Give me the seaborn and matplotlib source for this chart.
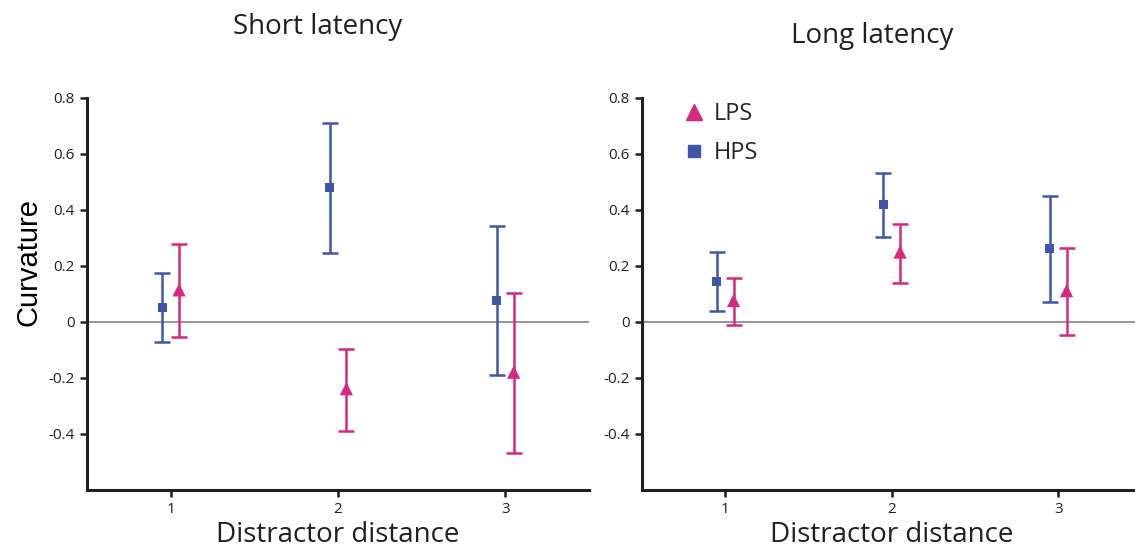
import matplotlib
matplotlib.use("Agg")
import matplotlib.pyplot as plt
import seaborn as sns
import numpy as np
import pandas as pd
from matplotlib.lines import Line2D

# ---- data ----
distances = [1, 2, 3]
groups = ["LPS", "HPS"]

short_lps_mean = [0.113, -0.240, -0.181]
short_lps_low = [-0.055, -0.390, -0.469]
short_lps_high = [0.277, -0.098, 0.102]
short_hps_mean = [0.050, 0.477, 0.075]
short_hps_low = [-0.074, 0.245, -0.192]
short_hps_high = [0.174, 0.708, 0.342]

long_lps_mean = [0.075, 0.248, 0.110]
long_lps_low = [-0.014, 0.137, -0.048]
long_lps_high = [0.155, 0.349, 0.264]
long_hps_mean = [0.143, 0.418, 0.260]
long_hps_low = [0.038, 0.302, 0.071]
long_hps_high = [0.248, 0.532, 0.450]

panel_titles = ["Short latency", "Long latency"]
ytick_values = [-0.4, -0.2, 0, 0.2, 0.4, 0.6, 0.8]
ytick_labels = ["-0.4", "-0.2", "0", "0.2", "0.4", "0.6", "0.8"]
xtick_labels = ["1", "2", "3"]

# ---- style ----
sns.set_theme(style="ticks")
plt.rcParams["font.family"] = ["Open Sans", "DejaVu Sans"]
DARK = "#231f20"
BLUE = "#3f55a8"
PINK = "#d6287f"
colors = {"LPS": PINK, "HPS": BLUE}
markers = {"LPS": "^", "HPS": "s"}
msize = {"LPS": 9.5, "HPS": 6.5}
leg_msize = {"LPS": 11.5, "HPS": 8.0}
offsets = {"LPS": 0.05, "HPS": -0.05}

fig = plt.figure(figsize=(11.35, 5.51), dpi=100)
W, H = 1135, 551
ax_l = fig.add_axes([87 / W, (551 - 489.5) / H, 502 / W, 392 / H])
ax_r = fig.add_axes([642 / W, (551 - 489.5) / H, 499.5 / W, 392 / H])

def make_df(lm, ll, lh, hm, hl, hh):
    rows = []
    for g, (m, lo, hi) in {"LPS": (lm, ll, lh), "HPS": (hm, hl, hh)}.items():
        for d, a, b, c in zip(distances, m, lo, hi):
            rows.append({"distance": d, "group": g, "mean": a, "low": b, "high": c})
    return pd.DataFrame(rows)

dfs = [
    make_df(short_lps_mean, short_lps_low, short_lps_high,
            short_hps_mean, short_hps_low, short_hps_high),
    make_df(long_lps_mean, long_lps_low, long_lps_high,
            long_hps_mean, long_hps_low, long_hps_high),
]

for ax, df, title, pad in zip([ax_l, ax_r], dfs, panel_titles, [46, 39]):
    ax.axhline(0, color="#7a7a7a", lw=1.1, zorder=1)
    df = df.copy()
    df["x"] = df["distance"] + df["group"].map(offsets)
    for g in groups:
        sub = df[df["group"] == g]
        ax.errorbar(sub["x"], sub["mean"],
                    yerr=[sub["mean"] - sub["low"], sub["high"] - sub["mean"]],
                    fmt="none", ecolor=colors[g], elinewidth=1.8,
                    capsize=6, capthick=1.8, zorder=2)
        sns.scatterplot(data=sub, x="x", y="mean", ax=ax, color=colors[g],
                        marker=markers[g], s=msize[g] ** 2, edgecolor="none",
                        zorder=3, legend=False)
    ax.set_xlim(0.5, 3.5)
    ax.set_ylim(-0.6, 0.8)
    ax.set_xticks(distances)
    ax.set_xticklabels(xtick_labels)
    ax.set_yticks(ytick_values)
    ax.set_yticklabels(ytick_labels)
    ax.tick_params(axis="both", direction="out", length=5, width=1.8,
                   color=DARK, labelcolor=DARK, labelsize=11, pad=4)
    for s in ["top", "right"]:
        ax.spines[s].set_visible(False)
    for s in ["left", "bottom"]:
        ax.spines[s].set_linewidth(2.2)
        ax.spines[s].set_color(DARK)
    ax.set_xlabel("Distractor distance", fontsize=20, color=DARK, labelpad=3)
    ax.set_ylabel("")
    ax.set_title(title, fontsize=20, color=DARK, x=0.46, pad=pad)

ax_l.set_ylabel("Curvature", fontsize=21, color="black",
                family=["Liberation Sans", "DejaVu Sans"])
ax_l.yaxis.set_label_coords((43 - 87) / 502, 1 - (262 - 97.5) / 392)

handles = [Line2D([], [], ls="none", marker=markers[g], color=colors[g],
                  markersize=leg_msize[g], label=g) for g in groups]
ax_r.legend(handles=handles, loc="upper left", bbox_to_anchor=(0.056, 1.012),
            frameon=False, fontsize=17, handletextpad=0.25, labelspacing=0.62,
            handlelength=1.2, borderaxespad=0)

fig.savefig("out.png", dpi=100)
